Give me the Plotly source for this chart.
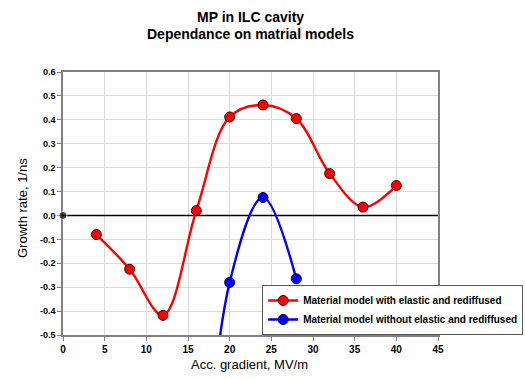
import plotly.graph_objects as go

x_red = [4, 8, 12, 16, 20, 24, 28, 32, 36, 40]
y_red = [-0.08, -0.225, -0.418, 0.02, 0.412, 0.462, 0.405, 0.175, 0.035, 0.125]
x_blue = [16, 20, 24, 28]
y_blue = [-1.6, -0.28, 0.075, -0.265]
x_zero = [0, 45]
y_zero = [0, 0]
x_ticks = [0, 5, 10, 15, 20, 25, 30, 35, 40, 45]
y_ticks = [-0.5, -0.4, -0.3, -0.2, -0.1, 0.0, 0.1, 0.2, 0.3, 0.4, 0.5, 0.6]

FONT = "Liberation Sans, Arial, sans-serif"

fig = go.Figure()
fig.add_trace(go.Scatter(x=x_zero, y=y_zero, mode="lines+markers",
                         line=dict(color="black", width=1.5),
                         marker=dict(color="black", size=[8, 0]),
                         cliponaxis=False,
                         showlegend=False, hoverinfo="skip"))
fig.add_trace(go.Scatter(x=x_red, y=y_red, mode="lines+markers",
                         name="<b>Material model with elastic and rediffused</b>",
                         line=dict(color="#ff0000", width=2.4, shape="spline", smoothing=1.0),
                         marker=dict(color="#ff0000", size=10, line=dict(color="#400000", width=1))))
fig.add_trace(go.Scatter(x=x_blue, y=y_blue, mode="lines+markers",
                         name="<b>Material model without elastic and rediffused</b>",
                         line=dict(color="#0000ff", width=2.4, shape="spline", smoothing=1.0),
                         marker=dict(color="#0000ff", size=10, line=dict(color="#000040", width=1))))

PB = 335.0   # plot bottom pixel
PH = 263.0   # plot height pixel

fig.update_layout(
    width=525, height=379,
    margin=dict(l=63, r=87, t=72, b=44, autoexpand=False),
    paper_bgcolor="white", plot_bgcolor="white",
    font=dict(family=FONT, color="black"),
    showlegend=True,
    legend=dict(x=0.531, y=0.19, xanchor="left", yanchor="top",
                xref="paper", yref="paper",
                bgcolor="white", bordercolor="#555555", borderwidth=1,
                font=dict(size=10, family=FONT, color="black"),
                tracegroupgap=0, itemwidth=30),
    annotations=[
        dict(text="<b>MP in ILC cavity</b>", xref="paper", yref="paper",
             x=0.5, y=(PB - 17) / PH, yanchor="middle", xanchor="center",
             showarrow=False, font=dict(size=14, family=FONT)),
        dict(text="<b>Dependance on matrial models</b>", xref="paper", yref="paper",
             x=0.5, y=(PB - 34) / PH, yanchor="middle", xanchor="center",
             showarrow=False, font=dict(size=14, family=FONT)),
        dict(text="Acc. gradient, MV/m", xref="paper", yref="paper",
             x=0.496, y=(PB - 364) / PH, yanchor="middle", xanchor="center",
             showarrow=False, font=dict(size=13, family=FONT)),
        dict(text="Growth rate, 1/ns", xref="paper", yref="paper",
             x=(22 - 63) / 375.0, y=(PB - 208) / PH, yanchor="middle", xanchor="center",
             textangle=-90, showarrow=False, font=dict(size=13, family=FONT)),
    ],
)
fig.update_xaxes(range=[0, 45], tickvals=x_ticks, ticktext=["<b>%d</b>" % v for v in x_ticks],
                 showgrid=True, gridcolor="#d9d9d9", gridwidth=1,
                 showline=True, linecolor="#808080", linewidth=1.5, mirror=True,
                 ticks="outside", ticklen=4, tickcolor="#808080",
                 tickfont=dict(size=10, family=FONT),
                 zeroline=False, automargin=False)
fig.update_yaxes(range=[-0.5, 0.6], tickvals=y_ticks, ticktext=["<b>%.1f</b>" % v for v in y_ticks],
                 showgrid=True, gridcolor="#d9d9d9", gridwidth=1,
                 showline=True, linecolor="#808080", linewidth=1.5, mirror=True,
                 ticks="outside", ticklen=4, tickcolor="#808080",
                 tickfont=dict(size=9, family=FONT),
                 zeroline=False, automargin=False, layer="below traces")

fig.write_html("out.html")
